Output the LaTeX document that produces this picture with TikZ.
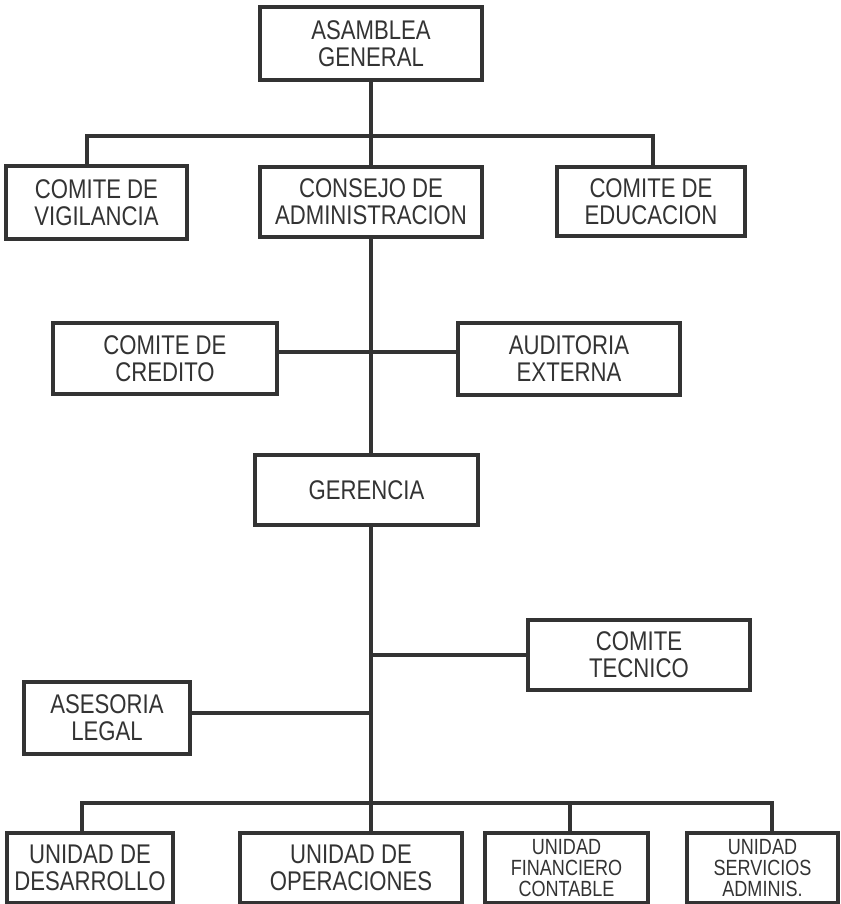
\documentclass[tikz,border=0pt]{standalone}
\usepackage{fontspec}
\setmainfont{Liberation Sans}[FakeStretch=0.82]
\usetikzlibrary{positioning}

\begin{document}
\begin{tikzpicture}[x=1pt,y=-1pt]
			\tikzset{unit/.style = {shape=rectangle, draw=black!80, line width=3.2pt, text=black!80, inner sep=0pt, align=center, font=\fontsize{27}{27}\selectfont}}
			\tikzset{small/.style = {font=\fontsize{22}{21}\selectfont}}
			\tikzset{link/.style = {draw=black!80, line width=3.2pt}}
			\useasboundingbox (0,0) rectangle (840,904);
			\node[unit, minimum width=222pt, minimum height=73pt] (ASAMBLEA) at (371,43.5) {ASAMBLEA\\GENERAL};
			\node[unit, minimum width=181pt, minimum height=73pt] (VIGILANCIA) at (96.5,202.5) {COMITE DE\\VIGILANCIA};
			\node[unit, minimum width=222pt, minimum height=70pt] (CONSEJO) at (371,202) {CONSEJO DE\\ADMINISTRACION};
			\node[unit, minimum width=188pt, minimum height=69pt] (EDUCACION) at (651,201.5) {COMITE DE\\EDUCACION};
			\node[unit, minimum width=224pt, minimum height=71pt] (CREDITO) at (165,358.5) {COMITE DE\\CREDITO};
			\node[unit, minimum width=222pt, minimum height=72pt] (AUDITORIA) at (569,359) {AUDITORIA\\EXTERNA};
			\node[unit, minimum width=223pt, minimum height=70pt] (GERENCIA) at (366.5,490) {GERENCIA};
			\node[unit, minimum width=222pt, minimum height=70pt] (TECNICO) at (639,655) {COMITE\\TECNICO};
			\node[unit, minimum width=166pt, minimum height=72pt] (LEGAL) at (107,718) {ASESORIA\\LEGAL};
			\node[unit, minimum width=166pt, minimum height=70pt] (DESARROLLO) at (90,868) {UNIDAD DE\\DESARROLLO};
			\node[unit, minimum width=222pt, minimum height=70pt] (OPERACIONES) at (351,868) {UNIDAD DE\\OPERACIONES};
			\node[unit, small, minimum width=163pt, minimum height=70pt] (FINANCIERO) at (566.5,868) {UNIDAD\\FINANCIERO\\CONTABLE};
			\node[unit, small, minimum width=151pt, minimum height=70pt] (SERVICIOS) at (762.5,868) {UNIDAD\\SERVICIOS\\ADMINIS.};
			\coordinate (TOPBUS) at (371,136);
			\coordinate (BOTBUS) at (371,803);
			
			\draw[link] (ASAMBLEA) -- (CONSEJO);
			\draw[link] ([xshift=-9.5pt]VIGILANCIA.north) |- (TOPBUS) -| ([xshift=2pt]EDUCACION.north);
			\draw[link] ([yshift=6.5pt]CREDITO.east) -- ([yshift=6.5pt]CREDITO.east -| AUDITORIA.west);
			\draw[link] (CONSEJO.south) -- (CONSEJO.south |- GERENCIA.north);
			\draw[link] (GERENCIA.south -| BOTBUS) -- (OPERACIONES.north -| BOTBUS);
			\draw[link] (TECNICO.west) -- (TECNICO.west -| BOTBUS);
			\draw[link] ([yshift=5pt]LEGAL.east) -- ([yshift=5pt]LEGAL.east -| BOTBUS);
			\draw[link] ([xshift=-8pt]DESARROLLO.north) |- (BOTBUS) -| ([xshift=9.5pt]SERVICIOS.north);
			\draw[link] ([xshift=3.5pt]FINANCIERO.north) -- ([xshift=3.5pt]FINANCIERO.north |- BOTBUS);
			
			\end{tikzpicture}
\end{document}
